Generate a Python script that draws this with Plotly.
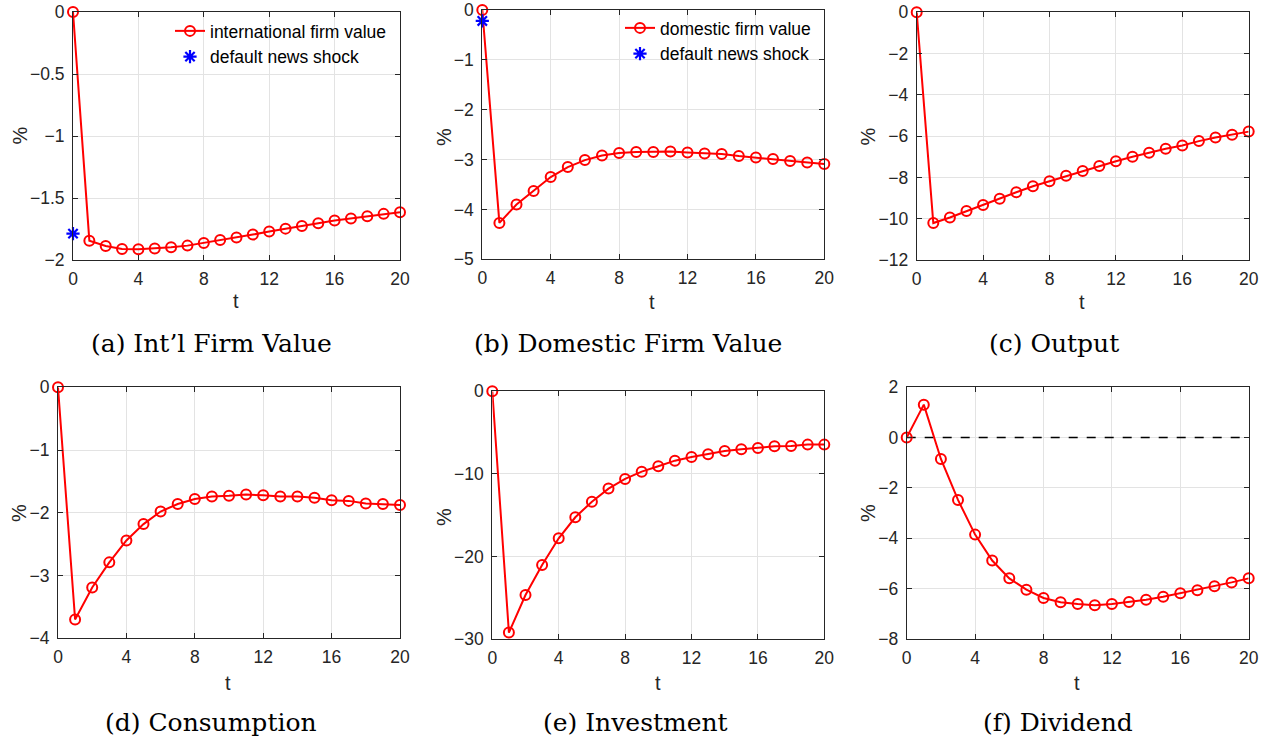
import plotly.graph_objects as go

t = list(range(21))
intl_firm_value = [0, -1.844, -1.887, -1.911, -1.914, -1.908, -1.898, -1.884, -1.863, -1.838, -1.819,
                   -1.795, -1.771, -1.747, -1.725, -1.704, -1.682, -1.666, -1.647, -1.628, -1.615]
intl_shock = [-1.787]
dom_firm_value = [0, -4.27, -3.90, -3.63, -3.35, -3.15, -3.01, -2.92, -2.87, -2.85, -2.85,
                  -2.84, -2.86, -2.88, -2.89, -2.93, -2.96, -2.99, -3.03, -3.06, -3.09]
dom_shock = [-0.22]
output = [0, -10.21, -9.94, -9.63, -9.34, -9.03, -8.72, -8.43, -8.19, -7.92, -7.69,
          -7.45, -7.22, -7.00, -6.80, -6.61, -6.45, -6.24, -6.07, -5.93, -5.78]
consumption = [0, -3.70, -3.19, -2.79, -2.44, -2.18, -1.98, -1.86, -1.78, -1.74, -1.73,
               -1.71, -1.72, -1.74, -1.74, -1.76, -1.80, -1.81, -1.85, -1.86, -1.875]
investment = [0, -29.19, -24.64, -21.01, -17.78, -15.24, -13.35, -11.77, -10.60, -9.72, -9.07,
              -8.39, -7.94, -7.62, -7.22, -7.02, -6.85, -6.65, -6.61, -6.45, -6.45]
dividend = [0, 1.31, -0.85, -2.48, -3.86, -4.89, -5.60, -6.05, -6.38, -6.55, -6.62,
            -6.67, -6.62, -6.54, -6.45, -6.33, -6.19, -6.07, -5.91, -5.76, -5.60]
zero_line_x = [0, 20]
zero_line_y = [0, 0]

captions = ["(a) Int\u2019l Firm Value", "(b) Domestic Firm Value", "(c) Output",
            "(d) Consumption", "(e) Investment", "(f) Dividend"]
x_ticks = [0, 4, 8, 12, 16, 20]

W, H = 1270, 742


def fx(px):
    return px / W


def fy(py):
    return 1 - py / H


# plot-area boxes in window pixels (left, right, top, bottom)
boxes = [(73, 400, 12, 260), (482.3, 824.3, 10, 259.3), (916.7, 1248.7, 12.3, 260),
         (58, 400, 387.3, 638.3), (492.3, 824.3, 391.3, 639.3), (906.7, 1248.7, 387.3, 638.7)]
yranges = [(-2, 0), (-5, 0), (-12, 0), (-4, 0), (-30, 0), (-8, 2)]
ydticks = [0.5, 1, 2, 1, 10, 2]
caption_pos = [(211, 343), (628, 343), (1054, 343), (211, 722), (635, 722), (1058, 722)]
pct_pos = [(19.5, 136), (444, 137), (867.5, 137), (19, 513), (444, 517), (868, 513)]
t_pos = [(236, 301), (652, 302), (1082, 302), (228, 683), (658, 683), (1077, 683)]

RED = "#ff0000"
AX = "#262626"
TICKFONT = dict(family="Liberation Sans, Arial, sans-serif", size=17.5, color=AX)
TITLEFONT = dict(family="Liberation Sans, Arial, sans-serif", size=20, color=AX)

fig = go.Figure()
series = [intl_firm_value, dom_firm_value, output, consumption, investment, dividend]
names = ["international firm value", "domestic firm value", None, None, None, None]

for i, ys in enumerate(series):
    xa = "x" if i == 0 else f"x{i+1}"
    ya = "y" if i == 0 else f"y{i+1}"
    if i == 5:
        fig.add_trace(go.Scatter(x=zero_line_x, y=zero_line_y, mode="lines",
                                 line=dict(color="black", width=1.5, dash="dash"),
                                 showlegend=False, xaxis=xa, yaxis=ya, hoverinfo="skip"))
    leg = None
    if i == 0:
        leg = "legend"
    elif i == 1:
        leg = "legend2"
    fig.add_trace(go.Scatter(
        x=t, y=ys, mode="lines+markers", name=names[i] or "",
        line=dict(color=RED, width=2),
        marker=dict(symbol="circle-open", size=10, color=RED, line=dict(color=RED, width=2)),
        showlegend=leg is not None, legend=leg if leg else "legend",
        xaxis=xa, yaxis=ya, cliponaxis=False))
    if i in (0, 1):
        sh = intl_shock if i == 0 else dom_shock
        fig.add_trace(go.Scatter(
            x=[0], y=sh, mode="markers", name="default news shock",
            marker=dict(symbol="asterisk-open", size=11, color="#0000ff",
                        line=dict(color="#0000ff", width=2.2)),
            showlegend=True, legend=leg, xaxis=xa, yaxis=ya, cliponaxis=False))

layout = dict(width=W, height=H, margin=dict(l=0, r=0, t=0, b=0),
              paper_bgcolor="white", plot_bgcolor="white", autosize=False)

for i, (l, r, tp, bt) in enumerate(boxes):
    kx = "xaxis" if i == 0 else f"xaxis{i+1}"
    ky = "yaxis" if i == 0 else f"yaxis{i+1}"
    xa = "x" if i == 0 else f"x{i+1}"
    ya = "y" if i == 0 else f"y{i+1}"
    layout[kx] = dict(domain=[fx(l), fx(r)], range=[0, 20], anchor=ya, automargin=False,
                      tickvals=x_ticks, ticks="inside", ticklen=5, tickcolor=AX,
                      showline=True, linecolor=AX, linewidth=1, mirror="allticks",
                      showgrid=True, gridcolor="#e3e3e3", gridwidth=1, zeroline=False,
                      tickfont=TICKFONT, ticklabelstandoff=3, ticklabeloverflow="allow")
    y0, y1 = yranges[i]
    layout[ky] = dict(domain=[fy(bt), fy(tp)], range=[y0, y1], anchor=xa, automargin=False,
                      dtick=ydticks[i], tick0=0, ticks="inside", ticklen=5, tickcolor=AX,
                      showline=True, linecolor=AX, linewidth=1, mirror="allticks",
                      showgrid=True, gridcolor="#e3e3e3", gridwidth=1, zeroline=False,
                      tickfont=TICKFONT, ticklabelstandoff=4, ticklabeloverflow="allow")

legfont = dict(family="Liberation Sans, Arial, sans-serif", size=17.5, color="black")
layout["legend"] = dict(x=fx(392), y=fy(13), xanchor="right", yanchor="top",
                        bgcolor="rgba(0,0,0,0)", borderwidth=0, font=legfont,
                        tracegroupgap=0, itemwidth=30)
layout["legend2"] = dict(x=fx(816), y=fy(10), xanchor="right", yanchor="top",
                         bgcolor="rgba(0,0,0,0)", borderwidth=0, font=legfont,
                         tracegroupgap=0, itemwidth=30)

anns = []
for (cx, cy), txt in zip(caption_pos, captions):
    anns.append(dict(x=fx(cx), y=fy(cy), xref="paper", yref="paper", text=txt,
                     showarrow=False, xanchor="center", yanchor="middle",
                     font=dict(family="DejaVu Serif, serif", size=25, color="black")))
for (cx, cy) in pct_pos:
    anns.append(dict(x=fx(cx), y=fy(cy), xref="paper", yref="paper", text="%",
                     showarrow=False, xanchor="center", yanchor="middle", textangle=-90,
                     font=TITLEFONT))
for (cx, cy) in t_pos:
    anns.append(dict(x=fx(cx), y=fy(cy), xref="paper", yref="paper", text="t",
                     showarrow=False, xanchor="center", yanchor="middle",
                     font=TITLEFONT))
layout["annotations"] = anns

fig.update_layout(**layout)
fig.write_html("out.html", config={"displayModeBar": False},
               post_script="document.body.style.margin='0';document.body.style.padding='0';")
